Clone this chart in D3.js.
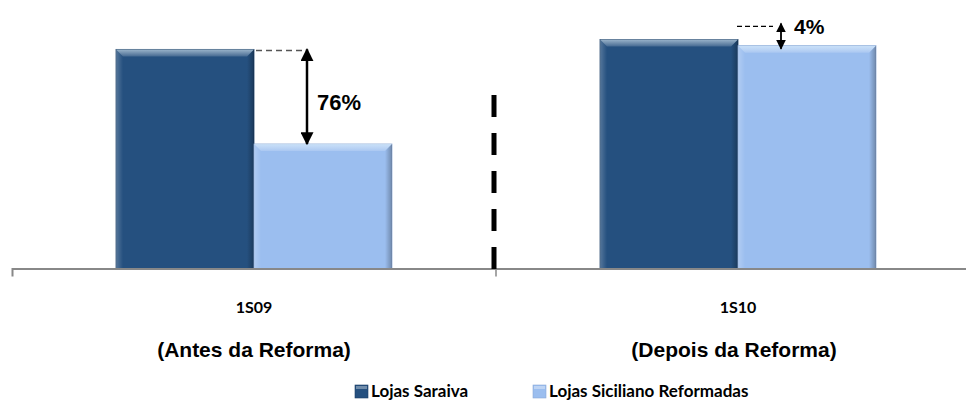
<!DOCTYPE html>
<html lang="pt">
<head>
<meta charset="UTF-8">
<title>Lojas Saraiva x Siciliano</title>
<script src="https://cdn.jsdelivr.net/npm/d3@7"></script>
<style>
  body { margin: 0; background: #fff; }
  svg { display: block; }
</style>
</head>
<body>
<script>
  let w = 966, h = 406;

  // dados (índice, Siciliano 1S09 = 100)
  let categories = ["1S09", "1S10"];
  let subtitles = ["(Antes da Reforma)", "(Depois da Reforma)"];
  let series = ["Lojas Saraiva", "Lojas Siciliano Reformadas"];
  let saraiva = [176, 184];
  let siciliano = [100, 179];
  let diffLabels = ["76%", "4%"];

  let colors = ["#25507f", "#9bbeef"];

  let svg = d3.select("body").append("svg").attr("width", w).attr("height", h);
  let defs = svg.append("defs");

  // gradientes do efeito chanfrado
  function grad(id, x2, y2, stops) {
    let g = defs.append("linearGradient").attr("id", id)
      .attr("x1", 0).attr("y1", 0).attr("x2", x2).attr("y2", y2);
    stops.forEach(s => g.append("stop").attr("offset", s[0]).attr("stop-color", s[1]).attr("stop-opacity", s[2]));
  }
  grad("gTop", 0, 1, [[0, "#e8f8ff", 0.6], [1, "#ffffff", 0.15]]);
  grad("gLeft", 1, 0, [[0, "#fff", 0.22], [1, "#fff", 0.0]]);
  grad("gRight", 1, 0, [[0, "#000", 0.0], [1, "#000", 0.28]]);

  let x = d3.scaleBand().domain(categories).range([12, 980]);
  let xs = d3.scaleBand().domain(series).range([0, x.bandwidth()]).paddingOuter(0.754);
  let y = d3.scaleLinear().domain([0, 200]).range([268.5, 19.5]);

  let rows = categories.map((c, i) => ({ cat: c, vals: [saraiva[i], siciliano[i]] }));

  // barras
  let groups = svg.selectAll("g.grp").data(rows).enter().append("g")
    .attr("class", "grp")
    .attr("transform", d => "translate(" + x(d.cat) + ",0)");

  let bars = groups.selectAll("g.bar")
    .data(d => d.vals.map((v, j) => ({ s: series[j], v: v, j: j })))
    .enter().append("g").attr("class", "bar");

  let b = 7;
  bars.each(function (d) {
    let g = d3.select(this);
    let x0 = xs(d.s), bw = xs.bandwidth(), y0 = y(d.v), y1 = y(0), bh = y1 - y0;
    g.append("rect").attr("x", x0).attr("y", y0).attr("width", bw).attr("height", bh)
      .attr("fill", colors[d.j]).attr("stroke", d.j ? "#8aa9d6" : "#1d3f66").attr("stroke-width", 0.8);
    g.append("polygon").attr("fill", "url(#gTop)")
      .attr("points", [[x0, y0], [x0 + bw, y0], [x0 + bw - b, y0 + b], [x0 + b, y0 + b]].join(" "));
    g.append("polygon").attr("fill", "url(#gLeft)")
      .attr("points", [[x0, y0], [x0 + b, y0 + b], [x0 + b, y1], [x0, y1]].join(" "));
    g.append("polygon").attr("fill", "url(#gRight)")
      .attr("points", [[x0 + bw, y0], [x0 + bw - b, y0 + b], [x0 + bw - b, y1], [x0 + bw, y1]].join(" "));
  });

  // eixo x
  let axis = svg.append("g").attr("transform", "translate(0," + y(0) + ")")
    .call(d3.axisBottom(x).tickValues([]).tickSizeOuter(8));
  axis.select(".domain").attr("stroke", "#888").attr("stroke-width", 2);
  axis.append("line").attr("x1", x(categories[1])).attr("x2", x(categories[1]))
    .attr("y1", 0).attr("y2", 8).attr("stroke", "#888").attr("stroke-width", 1.5);

  // divisória tracejada
  svg.append("line")
    .attr("x1", x(categories[1]) - 2).attr("x2", x(categories[1]) - 2)
    .attr("y1", 95).attr("y2", y(0) + 3)
    .attr("stroke", "#000").attr("stroke-width", 5).attr("stroke-dasharray", "22,16");

  // rótulos das categorias
  svg.selectAll("text.cat").data(categories).enter().append("text")
    .attr("class", "cat")
    .attr("x", d => x(d) + x.bandwidth() / 2).attr("y", 313)
    .attr("text-anchor", "middle").attr("font-family", "Lato, sans-serif")
    .attr("font-weight", "bold").attr("font-size", "16px").attr("fill", "#000")
    .text(d => d);

  svg.selectAll("text.sub").data(subtitles).enter().append("text")
    .attr("class", "sub")
    .attr("x", (d, i) => x(categories[i]) + x.bandwidth() / 2 - (i ? 4 : 0)).attr("y", 357)
    .attr("text-anchor", "middle").attr("font-family", "'Liberation Sans', Arial, sans-serif")
    .attr("font-weight", "bold").attr("font-size", "21px").attr("fill", "#000")
    .text(d => d);

  // anotações de diferença
  function arrowMarker(id, s) {
    defs.append("marker").attr("id", id).attr("viewBox", "0 0 10 10")
      .attr("refX", 9).attr("refY", 5).attr("markerUnits", "userSpaceOnUse")
      .attr("markerWidth", s).attr("markerHeight", s).attr("orient", "auto-start-reverse")
      .append("path").attr("d", "M0,0 L10,5 L0,10 Z").attr("fill", "#000");
  }
  arrowMarker("arBig", 13);
  arrowMarker("arSmall", 10);

  let darkRight = i => x(categories[i]) + xs(series[0]) + xs.bandwidth();

  // 1S09
  let ax0 = darkRight(0) + 53;
  svg.append("line").attr("x1", darkRight(0) + 2).attr("x2", ax0 - 2)
    .attr("y1", y(saraiva[0]) + 1).attr("y2", y(saraiva[0]) + 1)
    .attr("stroke", "#555").attr("stroke-width", 1.5).attr("stroke-dasharray", "6,4");
  svg.append("line").attr("x1", ax0).attr("x2", ax0)
    .attr("y1", y(saraiva[0])).attr("y2", y(siciliano[0]))
    .attr("stroke", "#000").attr("stroke-width", 2.5)
    .attr("marker-start", "url(#arBig)").attr("marker-end", "url(#arBig)");
  svg.append("text").attr("x", ax0 + 10).attr("y", 110)
    .attr("font-family", "'Liberation Sans', Arial, sans-serif").attr("font-weight", "bold")
    .attr("font-size", "22px").attr("fill", "#000").text(diffLabels[0]);

  // 1S10
  let ax1 = darkRight(1) + 43;
  let top1 = y(saraiva[1]) - 16;
  svg.append("line").attr("x1", darkRight(1) - 1).attr("x2", ax1 - 8)
    .attr("y1", top1 + 3).attr("y2", top1 + 3)
    .attr("stroke", "#000").attr("stroke-width", 1.2).attr("stroke-dasharray", "5,3");
  svg.append("line").attr("x1", ax1).attr("x2", ax1)
    .attr("y1", top1).attr("y2", y(siciliano[1]) + 3)
    .attr("stroke", "#000").attr("stroke-width", 1.8)
    .attr("marker-start", "url(#arSmall)").attr("marker-end", "url(#arSmall)");
  svg.append("text").attr("x", ax1 + 13).attr("y", 34)
    .attr("font-family", "'Liberation Sans', Arial, sans-serif").attr("font-weight", "bold")
    .attr("font-size", "21px").attr("fill", "#000").text(diffLabels[1]);

  // legenda
  let legX = [355, 533];
  let leg = svg.selectAll("g.leg").data(series).enter().append("g")
    .attr("class", "leg")
    .attr("transform", (d, i) => "translate(" + legX[i] + ",385)");
  leg.append("rect").attr("width", 13).attr("height", 13)
    .attr("fill", (d, i) => colors[i]).attr("stroke", (d, i) => i ? "#8aa9d6" : "#1d3f66").attr("stroke-width", 0.6);
  leg.append("rect").attr("x", 1).attr("y", 1).attr("width", 11).attr("height", 3).attr("fill", "#fff").attr("opacity", 0.35);
  leg.append("text").attr("x", 16).attr("y", 12)
    .attr("font-family", "Lato, sans-serif").attr("font-weight", "bold")
    .attr("font-size", "17px").attr("fill", "#000")
    .text(d => d);
</script>
</body>
</html>
